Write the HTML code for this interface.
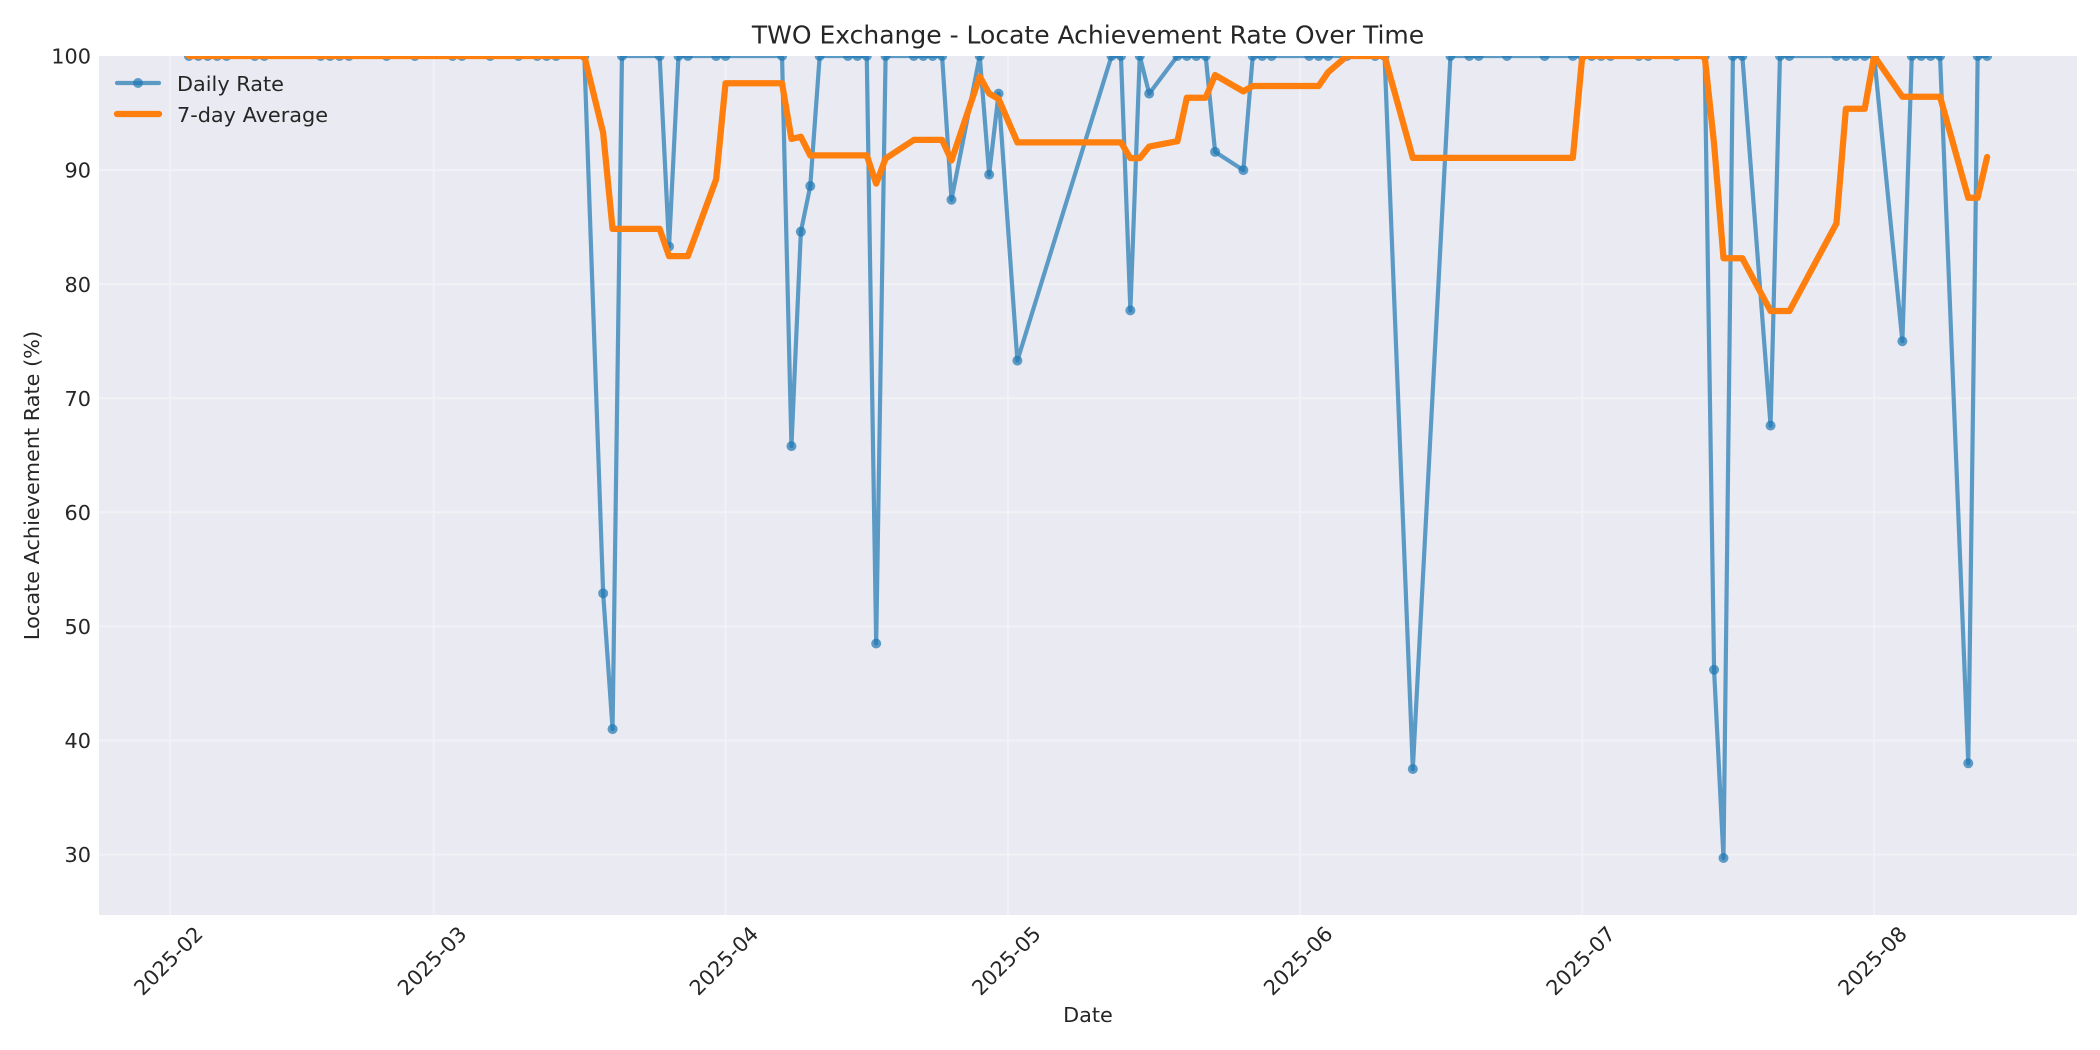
<!DOCTYPE html>
<html><head><meta charset="utf-8">
<style>
html,body{margin:0;padding:0;background:#fff;width:2100px;height:1050px;overflow:hidden;}
svg{display:block;}
text{font-family:"DejaVu Sans","Liberation Sans",sans-serif;fill:#262626;}
</style></head><body>
<svg id="c" width="2100" height="1050" viewBox="0 0 2100 1050" xmlns="http://www.w3.org/2000/svg">
<rect x="0" y="0" width="2100" height="1050" fill="#ffffff"/>
<defs><clipPath id="ax"><rect x="99" y="56" width="1978" height="859"/></clipPath></defs>
<rect x="99" y="56" width="1978" height="859" fill="#eaeaf2"/>
<g stroke="#f1f1f6" stroke-width="2" fill="none">
  <line x1="170.08" y1="56" x2="170.08" y2="915"/>
  <line x1="433.69" y1="56" x2="433.69" y2="915"/>
  <line x1="725.54" y1="56" x2="725.54" y2="915"/>
  <line x1="1007.98" y1="56" x2="1007.98" y2="915"/>
  <line x1="1299.83" y1="56" x2="1299.83" y2="915"/>
  <line x1="1582.27" y1="56" x2="1582.27" y2="915"/>
  <line x1="1874.12" y1="56" x2="1874.12" y2="915"/>
  <line x1="99" y1="170.1" x2="2077" y2="170.1"/>
  <line x1="99" y1="284.2" x2="2077" y2="284.2"/>
  <line x1="99" y1="398.2" x2="2077" y2="398.2"/>
  <line x1="99" y1="512.3" x2="2077" y2="512.3"/>
  <line x1="99" y1="626.4" x2="2077" y2="626.4"/>
  <line x1="99" y1="740.5" x2="2077" y2="740.5"/>
  <line x1="99" y1="854.6" x2="2077" y2="854.6"/>
</g>
<g clip-path="url(#ax)">
  <path id="daily" fill="none" stroke="#1f77b4" stroke-opacity="0.7" stroke-width="4.2" stroke-linejoin="round" stroke-linecap="round" d=""/>
  <g id="marks" fill="#1f77b4" fill-opacity="0.7"></g>
  <path id="avg" fill="none" stroke="#ff7f0e" stroke-width="6.25" stroke-linejoin="round" stroke-linecap="round" d=""/>
</g>

<!-- y tick labels -->
<g font-size="20.8" text-anchor="end">
  <text x="91" y="63.6">100</text>
  <text x="91" y="177.7">90</text>
  <text x="91" y="291.8">80</text>
  <text x="91" y="405.8">70</text>
  <text x="91" y="519.9">60</text>
  <text x="91" y="634">50</text>
  <text x="91" y="748.1">40</text>
  <text x="91" y="862.2">30</text>
</g>
<!-- x tick labels -->
<g font-size="20.8" text-anchor="middle" dominant-baseline="central">
  <text transform="translate(168.5,961) rotate(-45)">2025-02</text>
  <text transform="translate(432.2,961) rotate(-45)">2025-03</text>
  <text transform="translate(724,961) rotate(-45)">2025-04</text>
  <text transform="translate(1006.5,961) rotate(-45)">2025-05</text>
  <text transform="translate(1298.3,961) rotate(-45)">2025-06</text>
  <text transform="translate(1580.8,961) rotate(-45)">2025-07</text>
  <text transform="translate(1872.6,961) rotate(-45)">2025-08</text>
</g>
<text x="1088" y="1022" font-size="20.8" text-anchor="middle">Date</text>
<text transform="translate(39,485.5) rotate(-90)" font-size="20.8" text-anchor="middle">Locate Achievement Rate (%)</text>
<text x="1088" y="43.5" font-size="25" text-anchor="middle">TWO Exchange - Locate Achievement Rate Over Time</text>

<!-- legend -->
<line x1="117" y1="83" x2="159" y2="83" stroke="#1f77b4" stroke-opacity="0.7" stroke-width="4.2" stroke-linecap="round"/>
<circle cx="138" cy="83" r="5" fill="#1f77b4" fill-opacity="0.7"/>
<line x1="117" y1="114" x2="159" y2="114" stroke="#ff7f0e" stroke-width="6.25" stroke-linecap="round"/>
<text x="177" y="91" font-size="20.8">Daily Rate</text>
<text x="177" y="122" font-size="20.8">7-day Average</text>
</svg>
<script>
(function(){
var raw=[2,3,4,5,6,9,10,16,17,18,19,23,26,
30,31,34,37,39,40,41,44,[46,52.9],[47,41],48,52,[53,83.3],54,55,58,
59,65,[66,65.8],[67,84.6],[68,88.6],69,72,73,74,[75,48.5],76,79,80,81,82,[83,87.4],86,[87,89.6],[88,96.7],
[90,73.3],100,101,[102,77.7],103,[104,96.7],107,108,109,110,[111,91.6],[114,90],115,116,117,
121,122,123,125,128,129,[132,37.5],136,138,139,142,146,149,
150,151,152,153,156,157,160,163,[164,46.2],[165,29.7],166,167,[170,67.6],171,172,177,178,179,180,
181,[184,75],185,186,187,188,[191,38],192,193];
var D=raw.map(function(o){return Array.isArray(o)?o:[o,100];});
function X(d){return 99+(d+7.55)*9.4146;}
function Y(v){return 56+(100-v)*11.408;}
var p='',q='',m='';
for(var i=0;i<D.length;i++){
  var x=X(D[i][0]).toFixed(2), y=Y(D[i][1]).toFixed(2);
  p+=(i?'L':'M')+x+' '+y;
  m+='<circle cx="'+x+'" cy="'+y+'" r="5"/>';
  var s=0,n=0;
  for(var j=Math.max(0,i-6);j<=i;j++){s+=D[j][1];n++;}
  q+=(i?'L':'M')+x+' '+Y(s/n).toFixed(2);
}
document.getElementById('daily').setAttribute('d',p);
document.getElementById('avg').setAttribute('d',q);
var NS='http://www.w3.org/2000/svg',g=document.getElementById('marks');
for(var k=0;k<D.length;k++){
  var c=document.createElementNS(NS,'circle');
  c.setAttribute('cx',X(D[k][0]).toFixed(2));
  c.setAttribute('cy',Y(D[k][1]).toFixed(2));
  c.setAttribute('r','5');
  g.appendChild(c);
}
})();
</script>
</body></html>
